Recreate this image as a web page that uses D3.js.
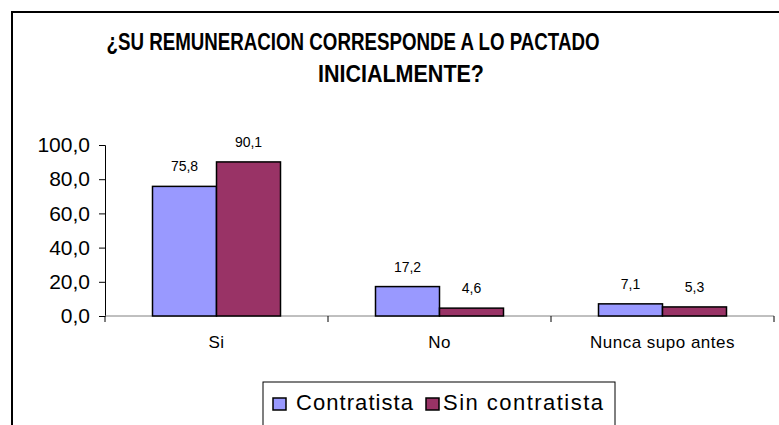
<!DOCTYPE html>
<html>
<head>
<meta charset="utf-8">
<script src="https://cdn.jsdelivr.net/npm/d3@7"></script>
<style>
  body { margin: 0; background: #fff; }
  text { font-family: Arial, "Liberation Sans", sans-serif; }
</style>
</head>
<body>
<svg id="chart" width="779" height="425"></svg>
<script>
const categories = ['Si', 'No', 'Nunca supo antes'];
const series = ['Contratista', 'Sin contratista'];
const contratista = [75.8, 17.2, 7.1];
const sinContratista = [90.1, 4.6, 5.3];
const yTicks = [0, 20, 40, 60, 80, 100];
const colors = ['#9999ff', '#993366'];

const values = [contratista, sinContratista];
const fmt = v => v.toFixed(1).replace('.', ',');

const svg = d3.select('#chart');

// outer chart frame (runs off the right and bottom edge)
svg.append('rect')
  .attr('x', 12).attr('y', 12)
  .attr('width', 800).attr('height', 450)
  .attr('fill', 'none')
  .attr('stroke', '#000')
  .attr('stroke-width', 2);

// title, two lines
const title = svg.append('g').attr('font-weight', 'bold').attr('font-size', 23).attr('text-anchor', 'middle');
title.append('text').attr('x', 353).attr('y', 50)
  .attr('textLength', 493).attr('lengthAdjust', 'spacingAndGlyphs')
  .text('¿SU REMUNERACION CORRESPONDE A LO PACTADO');
title.append('text').attr('x', 401).attr('y', 82)
  .attr('textLength', 166).attr('lengthAdjust', 'spacingAndGlyphs')
  .text('INICIALMENTE?');

const y = d3.scaleLinear().domain([0, 100]).range([316, 145]);
const x0 = d3.scaleBand().domain(categories).range([105, 774]).padding(0);
const groupW = x0.bandwidth() * 128 / 223;
const x1 = d3.scaleBand().domain(series).range([0, groupW]);

// y axis
const yAxis = svg.append('g')
  .attr('transform', 'translate(105,0)')
  .call(d3.axisLeft(y).tickValues(yTicks).tickSize(6).tickPadding(9).tickFormat(fmt));
yAxis.select('.domain').attr('stroke', '#000');
yAxis.selectAll('.tick line').attr('stroke', '#000');
yAxis.selectAll('.tick text').attr('font-size', 21).attr('fill', '#000')
  .attr('font-family', 'Arial, "Liberation Sans", sans-serif');

// x axis with ticks between categories
const xAxis = svg.append('g').attr('transform', 'translate(0,316)');
xAxis.append('line')
  .attr('x1', 105).attr('x2', 774)
  .attr('stroke', '#808080').attr('stroke-width', 1);
xAxis.selectAll('line.tk')
  .data(categories.map(c => x0(c)).concat([x0.range()[1]]))
  .join('line')
  .attr('class', 'tk')
  .attr('x1', d => d).attr('x2', d => d)
  .attr('y1', 0).attr('y2', 6)
  .attr('stroke', '#000');
xAxis.selectAll('text')
  .data(categories)
  .join('text')
  .attr('x', d => x0(d) + x0.bandwidth() / 2)
  .attr('y', 32)
  .attr('text-anchor', 'middle')
  .attr('font-size', 17)
  .attr('letter-spacing', 0.5)
  .text(d => d);

// bars
const groups = svg.append('g').selectAll('g')
  .data(categories)
  .join('g')
  .attr('transform', d => `translate(${x0(d) + (x0.bandwidth() - groupW) / 2},0)`);

groups.selectAll('rect')
  .data((d, i) => series.map((s, j) => ({ s, j, v: values[j][i] })))
  .join('rect')
  .attr('x', d => x1(d.s))
  .attr('y', d => y(d.v))
  .attr('width', x1.bandwidth())
  .attr('height', d => y(0) - y(d.v))
  .attr('fill', d => colors[d.j])
  .attr('stroke', '#000')
  .attr('stroke-width', 1.5);

groups.selectAll('text')
  .data((d, i) => series.map((s, j) => ({ s, j, v: values[j][i] })))
  .join('text')
  .attr('x', d => x1(d.s) + x1.bandwidth() / 2)
  .attr('y', d => y(d.v) - 15)
  .attr('text-anchor', 'middle')
  .attr('font-size', 14)
  .text(d => fmt(d.v));

// legend
const legend = svg.append('g');
legend.append('rect')
  .attr('x', 263).attr('y', 382)
  .attr('width', 352).attr('height', 60)
  .attr('fill', '#fff')
  .attr('stroke', '#000')
  .attr('stroke-width', 1);

const legendX = [273, 426];
const legendW = [117, 160];
const legendItem = legend.selectAll('g.item')
  .data(series)
  .join('g')
  .attr('class', 'item')
  .attr('transform', (d, i) => `translate(${legendX[i]},0)`);
legendItem.append('rect')
  .attr('x', 0).attr('y', 398)
  .attr('width', 13).attr('height', 12)
  .attr('fill', (d, i) => colors[i])
  .attr('stroke', '#000')
  .attr('stroke-width', 1.5);
legendItem.append('text')
  .attr('x', (d, i) => i === 0 ? 23 : 17).attr('y', 410)
  .attr('font-size', 22)
  .attr('textLength', (d, i) => legendW[i])
  .attr('lengthAdjust', 'spacing')
  .text(d => d);
</script>
</body>
</html>
